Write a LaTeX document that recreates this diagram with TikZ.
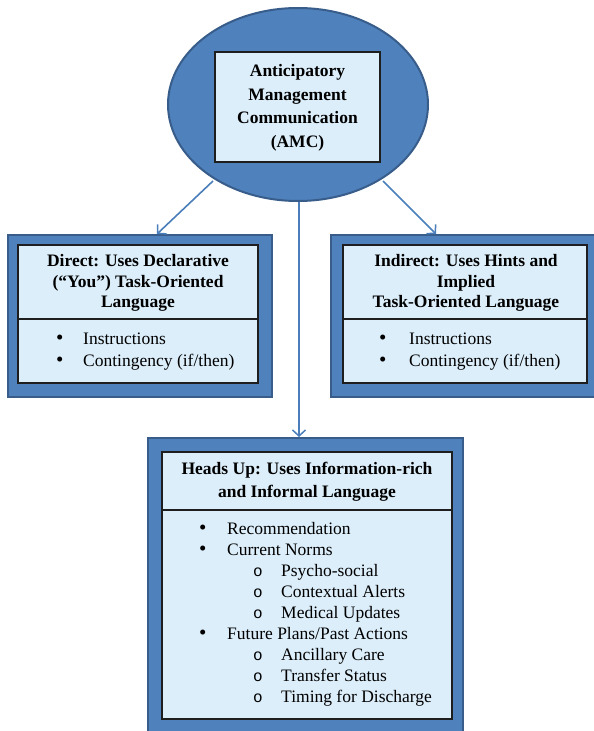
\documentclass[tikz,border=0pt]{standalone}
\usepackage{fontspec}
\setmainfont{Liberation Serif}
\newfontfamily\monofnt{Liberation Mono}
\usetikzlibrary{shapes.geometric,arrows.meta}
\definecolor{amcblue}{HTML}{4F81BD}
\definecolor{amcdark}{HTML}{385D8A}
\definecolor{amclight}{HTML}{DCEEFA}
\definecolor{amcline}{HTML}{1E1E1E}
\definecolor{amcarrow}{HTML}{4A7EBB}
\begin{document}
\begin{tikzpicture}[x=1pt,y=-1pt,
  outerbox/.style={rectangle,draw=amcdark,line width=2pt,fill=amcblue,inner sep=0pt},
  innerbox/.style={rectangle,draw=amcline,line width=1.2pt,fill=amclight,inner sep=0pt},
  headtext/.style={align=center,inner sep=0pt,font=\fontsize{17.5}{20.5}\selectfont\bfseries},
  itemtext/.style={anchor=base west,inner sep=0pt,font=\fontsize{17.5}{21}\selectfont},
  bullettext/.style={anchor=base west,inner sep=0pt,font=\fontsize{21}{21}\selectfont},
  subbullet/.style={anchor=base west,inner sep=0pt,font=\fontsize{16}{21}\monofnt},
  conn/.style={draw=amcarrow,line width=1.6pt,-{Straight Barb[length=6pt,width=13pt,line width=1.5pt]}}
]
\useasboundingbox (0,0) rectangle (594,731);

% top ellipse
\node[ellipse,draw=amcdark,line width=2pt,fill=amcblue,minimum width=260,minimum height=193,inner sep=0pt] (ell) at (298,104.5) {};
\node[innerbox,minimum width=165,minimum height=110] (amcbox) at (297.5,107) {};
\node[headtext,font=\fontsize{17.5}{23.5}\selectfont\bfseries] (amctext) at (297.5,108) {Anticipatory\\Management\\Communication\\(AMC)};

% left box
\node[outerbox,minimum width=264,minimum height=162] (Lout) at (140,316) {};
\node[innerbox,minimum width=240,minimum height=74] (Lhead) at (138,282) {};
\node[innerbox,minimum width=240,minimum height=64] (Lbody) at (138,351) {};
\node[headtext] (Ltext) at (138,283) {Direct: Uses Declarative\\(“You”) Task-Oriented\\Language};
\node[bullettext] (Lb1) at (56,344) {•};
\node[itemtext] (Li1) at (83,344) {Instructions};
\node[bullettext] (Lb2) at (56,366) {•};
\node[itemtext] (Li2) at (83,366) {Contingency (if/then)};

% right box
\node[outerbox,minimum width=270,minimum height=162] (Rout) at (466,316) {};
\node[innerbox,minimum width=244,minimum height=74] (Rhead) at (465,282) {};
\node[innerbox,minimum width=244,minimum height=64] (Rbody) at (465,351) {};
\node[headtext] (Rtext) at (466,283) {Indirect: Uses Hints and\\Implied\\Task-Oriented Language};
\node[bullettext] (Rb1) at (379,344) {•};
\node[itemtext] (Ri1) at (409,344) {Instructions};
\node[bullettext] (Rb2) at (379,366) {•};
\node[itemtext] (Ri2) at (409,366) {Contingency (if/then)};

% bottom box
\node[outerbox,minimum width=315,minimum height=310] (Bout) at (305.5,593) {};
\node[innerbox,minimum width=290,minimum height=58] (Bhead) at (307,481) {};
\node[innerbox,minimum width=290,minimum height=209] (Bbody) at (307,614.5) {};
\node[headtext,font=\fontsize{17.5}{23}\selectfont\bfseries] (Btext) at (307,482) {Heads Up: Uses Information-rich\\and Informal Language};
\node[bullettext] (Bb1) at (199,534) {•};
\node[itemtext] (Bi1) at (227,534) {Recommendation};
\node[bullettext] (Bb2) at (199,555) {•};
\node[itemtext] (Bi2) at (227,555) {Current Norms};
\node[subbullet] (Bs1) at (253,576) {o};
\node[itemtext] (Bt1) at (281,576) {Psycho-social};
\node[subbullet] (Bs2) at (253,597) {o};
\node[itemtext] (Bt2) at (281,597) {Contextual Alerts};
\node[subbullet] (Bs3) at (253,618) {o};
\node[itemtext] (Bt3) at (281,618) {Medical Updates};
\node[bullettext] (Bb3) at (199,639) {•};
\node[itemtext] (Bi3) at (227,639) {Future Plans/Past Actions};
\node[subbullet] (Bs4) at (253,660) {o};
\node[itemtext] (Bt4) at (281,660) {Ancillary Care};
\node[subbullet] (Bs5) at (253,681) {o};
\node[itemtext] (Bt5) at (281,681) {Transfer Status};
\node[subbullet] (Bs6) at (253,702) {o};
\node[itemtext] (Bt6) at (281,702) {Timing for Discharge};

% connectors
\coordinate (aLs) at (213,181);
\coordinate (aLe) at (157,234);
\coordinate (aRs) at (383,181);
\coordinate (aRe) at (436,234);
\coordinate (aBs) at (299,202);
\coordinate (aBe) at (299,437);
\draw[conn] (aLs) -- (aLe);
\draw[conn] (aRs) -- (aRe);
\draw[conn] (aBs) -- (aBe);
\end{tikzpicture}
\end{document}
